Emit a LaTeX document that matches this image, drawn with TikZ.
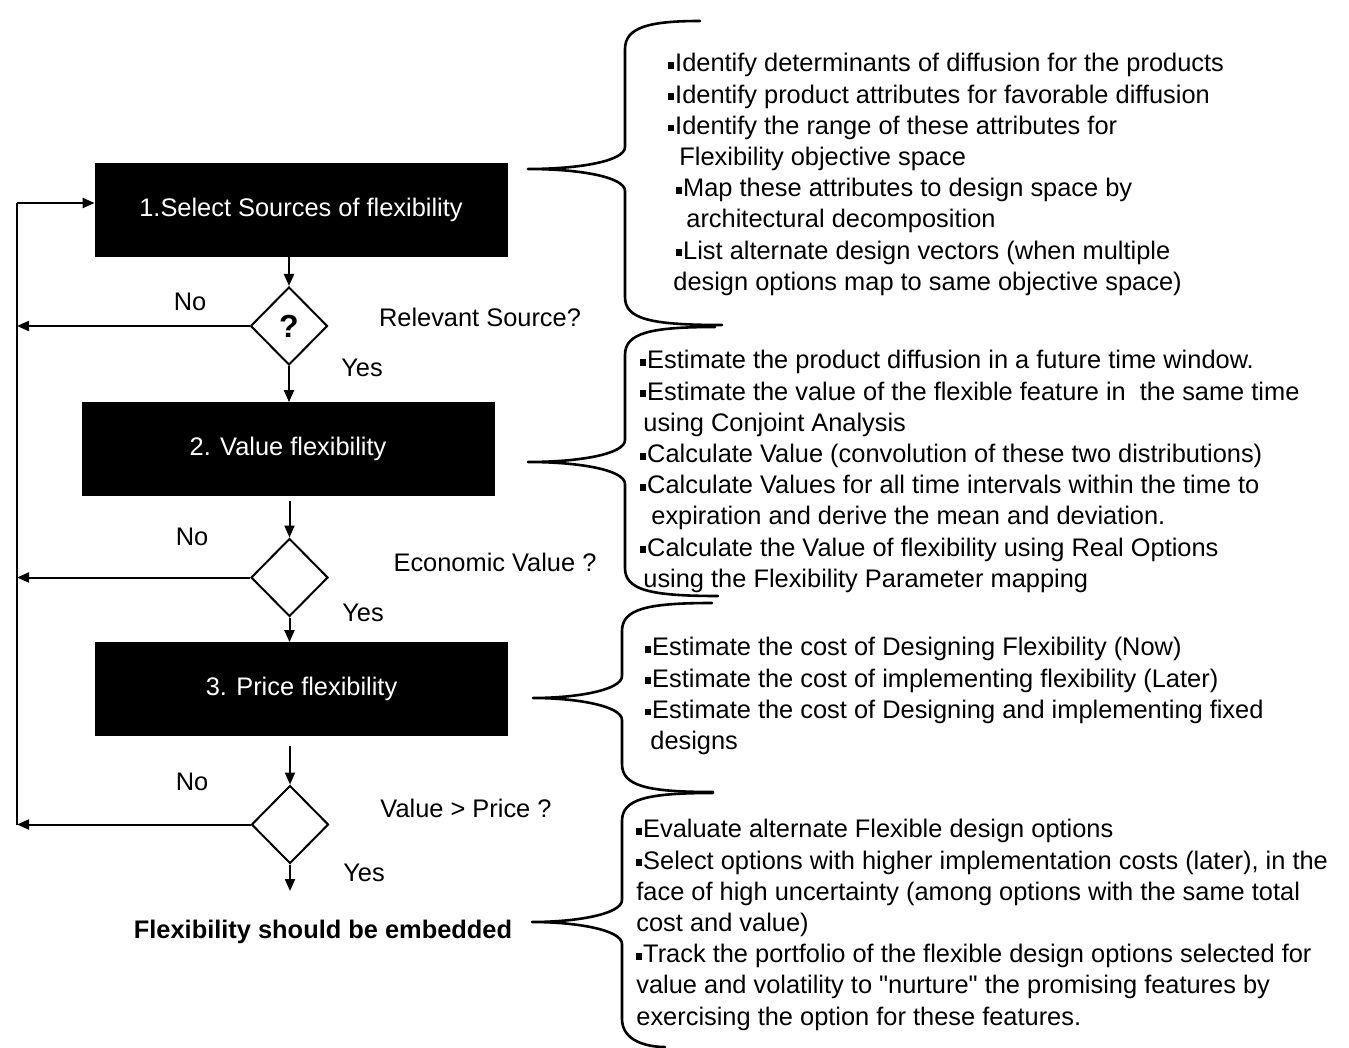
\documentclass[tikz,border=0pt]{standalone}
\usepackage{fontspec}
\setmainfont{Liberation Sans}
\usetikzlibrary{arrows.meta,shapes.geometric}
\newcommand{\blt}{\rule[1.4pt]{2.6pt}{3.4pt}\hspace{0.8pt}}
\newcommand{\dq}{\XeTeXglyph\XeTeXcharglyph"22\relax}
\newcommand{\fxfont}{\fontsize{12.7}{15.6}\selectfont}
\tikzset{
  >={Triangle[length=6pt,width=5pt]},
  fline/.style={line width=1pt},
  fflow/.style={->, line width=1pt},
  fstep/.style={rectangle, draw=black, fill=black, text=white, inner sep=0pt,
                minimum width=206pt, minimum height=46.5pt, font=\fxfont},
  fdec/.style={diamond, draw=black, line width=1pt, inner sep=0pt,
               minimum width=38.5pt, minimum height=39pt},
  flbl/.style={font=\fxfont, inner sep=0pt},
  fres/.style={font=\fxfont\bfseries, inner sep=0pt},
  fnote/.style={anchor=north west, align=left, inner sep=0pt, font=\fxfont},
  fbr/.style={line width=1.3pt, line cap=round, line join=round},
}
\begin{document}
\begin{tikzpicture}[x=0.5pt,y=-0.5pt]
  \useasboundingbox (0,0) rectangle (1349,1048);

  % etapas
  \node[fstep] (b1) at (301,209.5) {1.Select Sources of flexibility};
  \node[fstep] (b2) at (288,449)   {2. Value flexibility};
  \node[fstep] (b3) at (301.5,689) {3. Price flexibility};

  % decisoes
  \node[fdec, font=\bfseries\fontsize{16}{16}\selectfont] (d1) at (289,326) {?};
  \node[fdec] (d2) at (289.5,577.5) {};
  \node[fdec] (d3) at (290,824.5) {};

  \node[fres] (res) at (323,932) {Flexibility should be embedded};
  \coordinate (yend) at (290,891);

  % fluxo principal
  \draw[fflow] (b1.south -| d1.north) -- (d1.north);
  \draw[fflow] (d1.south) -- (d1.south |- b2.north);
  \draw[fflow, shorten <=2.5pt] (b2.south -| d2.north) -- (d2.north);
  \draw[fflow] (d2.south) -- (d2.south |- b3.north);
  \draw[fflow, shorten <=5pt] (b3.south -| d3.north) -- (d3.north);
  \draw[fflow] (d3.south) -- (yend);

  % retorno
  \coordinate (lt) at (17,203);
  \draw[fline] (d3.west -| lt) -- (lt);
  \draw[fflow] (lt) -- (b1.west |- lt);
  \draw[fflow] (d1.west) -- (d1.west -| lt);
  \draw[fflow] (d2.west) -- (d2.west -| lt);
  \draw[fflow] (d3.west) -- (d3.west -| lt);

  % rotulos
  \node[flbl] (no1)  at (190,302) {No};
  \node[flbl] (no2)  at (192,537) {No};
  \node[flbl] (no3)  at (192,782) {No};
  \node[flbl] (yes1) at (362,368) {Yes};
  \node[flbl] (yes2) at (363,613) {Yes};
  \node[flbl] (yes3) at (364,873) {Yes};
  \node[flbl] (q1) at (480,317) {Relevant Source?};
  \node[flbl] (q2) at (495,562) {Economic Value ?};
  \node[flbl] (q3) at (466,808) {Value > Price ?};

  % chaves
  \foreach \sx/\tx/\ya/\yt/\yb/\ea/\eb in
      {625/528/21/169/325/700/722, 625/528/327/462/596/715/718,
       622/533/603/698/792/712/713, 622/532/793/922/1047/713/665}
  {
    \draw[fbr] (\ea,\ya) .. controls ({\sx+25},\ya) and (\sx,{\ya+6}) .. (\sx,{\ya+28})
      -- (\sx,{\yt-22}) .. controls (\sx,{\yt-8}) and ({\sx-45},\yt) .. (\tx,\yt)
      .. controls ({\sx-45},\yt) and (\sx,{\yt+8}) .. (\sx,{\yt+22})
      -- (\sx,{\yb-28}) .. controls (\sx,{\yb-6}) and ({\sx+25},\yb) .. (\eb,\yb);
  }

  % textos
  \node[fnote] (n1) at (668,53) {\blt Identify determinants of diffusion for the products\\
    \blt Identify product attributes for favorable diffusion\\
    \blt Identify the range of these attributes for\\
    \hspace*{5.5pt}Flexibility objective space\\
    \hspace*{4pt}\blt Map these attributes to design space by\\
    \hspace*{9pt}architectural decomposition\\
    \hspace*{4pt}\blt List alternate design vectors (when multiple\\
    \hspace*{2.5pt}design options map to same objective space)};
  \node[fnote] (n2) at (640,350) {\blt Estimate the product diffusion in a future time window.\\
    \blt Estimate the value of the flexible feature in\ \ the same time\\
    \hspace*{1.5pt}using Conjoint Analysis\\
    \blt Calculate Value (convolution of these two distributions)\\
    \blt Calculate Values for all time intervals within the time to\\
    \hspace*{5.5pt}expiration and derive the mean and deviation.\\
    \blt Calculate the Value of flexibility using Real Options\\
    \hspace*{1.5pt}using the Flexibility Parameter mapping};
  \node[fnote] (n3) at (645,637) {\blt Estimate the cost of Designing Flexibility (Now)\\
    \blt Estimate the cost of implementing flexibility (Later)\\
    \blt Estimate the cost of Designing and implementing fixed\\
    \hspace*{2.5pt}designs};
  \node[fnote] (n4) at (636,819) {\blt Evaluate alternate Flexible design options\\
    \blt Select options with higher implementation costs (later), in the\\
    face of high uncertainty (among options with the same total\\
    cost and value)\\
    \blt Track the portfolio of the flexible design options selected for\\
    value and volatility to \dq nurture\dq{} the promising features by\\
    exercising the option for these features.};

\end{tikzpicture}
\end{document}
